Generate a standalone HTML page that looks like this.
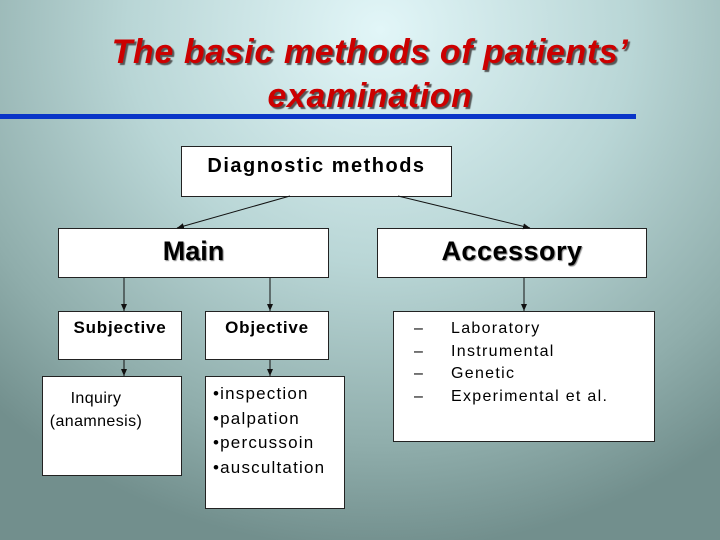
<!DOCTYPE html>
<html><head><style>
body{margin:0}
#s{position:relative;width:720px;height:540px;overflow:hidden;font-family:"Liberation Sans",sans-serif;
background:radial-gradient(ellipse 560px 520px at 380px 30px,#e2f6f8 0%,#b9d6d6 45%,#8fadab 80%,#728f8d 100%);}
.t{position:absolute;left:0;width:740px;text-align:center;color:#cc0000;font-weight:bold;font-style:italic;font-size:34px;letter-spacing:0.6px;text-shadow:2px 2px 1px #555}
.b{position:absolute;background:#fff;border:1px solid #222;box-sizing:border-box}
.h{position:absolute;text-align:center;font-weight:bold}
</style></head><body><div id="s">
<div class="t" style="top:33px">The basic methods of patients’</div>
<div class="t" style="top:77px">examination</div>
<div style="position:absolute;left:0;top:114px;width:636px;height:5px;background:#0a35c8"></div>

<div class="b" style="left:181px;top:146px;width:271px;height:51px"></div>
<div class="h" style="left:181px;top:155px;width:271px;font-size:20px;letter-spacing:1.5px">Diagnostic methods</div>

<div class="b" style="left:58px;top:228px;width:271px;height:50px"></div>
<div class="h" style="left:58px;top:236px;width:271px;font-size:27px;text-shadow:1px 1px 1px #888">Main</div>
<div class="b" style="left:377px;top:228px;width:270px;height:50px"></div>
<div class="h" style="left:377px;top:236px;width:270px;font-size:27px;letter-spacing:0.5px;text-shadow:1px 1px 1px #888">Accessory</div>

<div class="b" style="left:58px;top:311px;width:124px;height:49px"></div>
<div class="h" style="left:58px;top:318px;width:124px;font-size:17px;letter-spacing:0.8px">Subjective</div>
<div class="b" style="left:205px;top:311px;width:124px;height:49px"></div>
<div class="h" style="left:205px;top:318px;width:124px;font-size:17px;letter-spacing:0.8px">Objective</div>

<div class="b" style="left:393px;top:311px;width:262px;height:131px"></div>
<div style="position:absolute;left:414px;top:318px;font-size:16px;line-height:22.5px">–<br>–<br>–<br>–</div>
<div style="position:absolute;left:451px;top:318px;font-size:16px;line-height:22.5px;letter-spacing:1.3px">Laboratory<br>Instrumental<br>Genetic<br>Experimental et al.</div>

<div class="b" style="left:42px;top:376px;width:140px;height:100px"></div>
<div style="position:absolute;left:36px;top:387px;width:120px;text-align:center;font-size:16px;line-height:23px;letter-spacing:0.4px">Inquiry<br>(anamnesis)</div>
<div class="b" style="left:205px;top:376px;width:140px;height:133px"></div>
<div style="position:absolute;left:213px;top:382px;font-size:17px;line-height:24.5px;letter-spacing:1.2px">•inspection<br>•palpation<br>•percussoin<br>•auscultation</div>

<svg width="720" height="540" style="position:absolute;left:0;top:0">
<defs><marker id="a" markerWidth="8" markerHeight="8" refX="7" refY="4" orient="auto" markerUnits="userSpaceOnUse"><path d="M0,1 L7,4 L0,7 z" fill="#111"/></marker></defs>
<g stroke="#111" stroke-width="1" marker-end="url(#a)">
<line x1="290" y1="196" x2="177" y2="228"/>
<line x1="398" y1="196" x2="530" y2="228"/>
<line x1="124" y1="278" x2="124" y2="311"/>
<line x1="270" y1="278" x2="270" y2="311"/>
<line x1="524" y1="278" x2="524" y2="311"/>
<line x1="124" y1="360" x2="124" y2="376"/>
<line x1="270" y1="360" x2="270" y2="376"/>
</g></svg>
</div></body></html>
